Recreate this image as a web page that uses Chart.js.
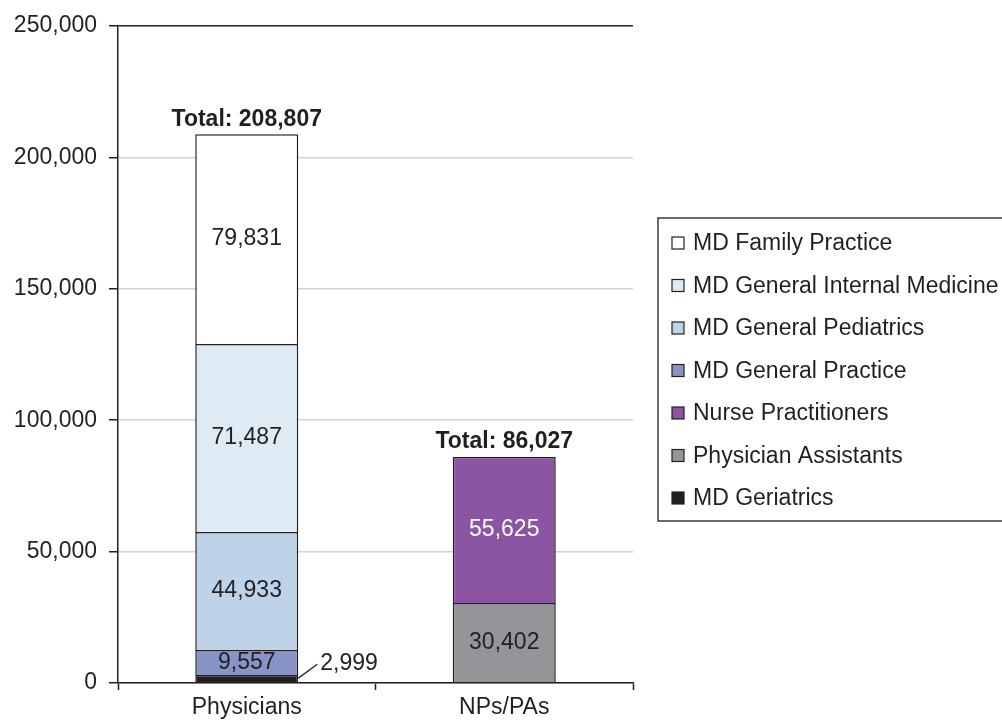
<!DOCTYPE html>
<html>
<head>
<meta charset="utf-8">
<script src="https://cdn.jsdelivr.net/npm/chart.js@4.4.1/dist/chart.umd.min.js"></script>
<style>
  html, body { margin: 0; padding: 0; background: #ffffff; }
  #wrap { width: 1002px; height: 721px; position: relative; }
</style>
</head>
<body>
<div id="wrap"><canvas id="c" width="1002" height="721"></canvas></div>
<script>
// ---- Data ----
const categories = ['Physicians', 'NPs/PAs'];
const seriesNames = ['MD Geriatrics', 'Physician Assistants', 'Nurse Practitioners', 'MD General Practice', 'MD General Pediatrics', 'MD General Internal Medicine', 'MD Family Practice'];
const geriatrics = [2999, null];
const physicianAssistants = [null, 30402];
const nursePractitioners = [null, 55625];
const generalPractice = [9557, null];
const generalPediatrics = [44933, null];
const internalMedicine = [71487, null];
const familyPractice = [79831, null];
const yTicks = [0, 50000, 100000, 150000, 200000, 250000];

const seriesValues = [geriatrics, physicianAssistants, nursePractitioners, generalPractice, generalPediatrics, internalMedicine, familyPractice];
const seriesColors = ['#231f20', '#939598', '#8c55a4', '#8894c6', '#bed3e8', '#dfebf4', '#ffffff'];
const labelColors = ['#231f20', '#231f20', '#ffffff', '#231f20', '#231f20', '#231f20', '#231f20'];

const FONT = '"Liberation Sans", Arial, Helvetica, sans-serif';
const INK = '#231f20';
const fmt = v => v.toLocaleString('en-US');

const datasets = seriesNames.map((name, i) => ({
  label: name,
  data: seriesValues[i],
  backgroundColor: seriesColors[i],
  borderColor: INK,
  borderWidth: { top: 1.5, left: 1.5, right: 1.5, bottom: 0 },
  borderSkipped: false,
  barPercentage: 0.8,
  categoryPercentage: 0.5
}));

const labelsPlugin = {
  id: 'labelsPlugin',
  afterDatasetsDraw(chart) {
    const ctx = chart.ctx;
    ctx.save();
    ctx.font = '23px ' + FONT;
    ctx.textBaseline = 'middle';
    chart.data.datasets.forEach((ds, i) => {
      const meta = chart.getDatasetMeta(i);
      meta.data.forEach((el, j) => {
        const v = ds.data[j];
        if (v === null || v === undefined) return;
        const p = el.getProps(['x', 'y', 'base', 'width'], true);
        const cy = (p.y + p.base) / 2;
        if (i === 0) {
          const x0 = p.x + p.width / 2;
          const y0 = p.base - 4;
          ctx.strokeStyle = INK;
          ctx.lineWidth = 1.5;
          ctx.beginPath();
          ctx.moveTo(x0, y0);
          ctx.lineTo(x0 + 19, y0 - 14);
          ctx.stroke();
          ctx.fillStyle = INK;
          ctx.textAlign = 'left';
          ctx.fillText(fmt(v), x0 + 22, y0 - 15);
        } else {
          ctx.fillStyle = labelColors[i];
          ctx.textAlign = 'center';
          ctx.fillText(fmt(v), p.x, cy);
        }
      });
    });
    ctx.font = 'bold 23px ' + FONT;
    ctx.fillStyle = INK;
    ctx.textAlign = 'center';
    categories.forEach((c, j) => {
      let total = 0;
      seriesValues.forEach(arr => { if (arr[j] !== null) total += arr[j]; });
      const x = chart.scales.x.getPixelForValue(j);
      const y = chart.scales.y.getPixelForValue(total);
      ctx.fillText('Total: ' + fmt(total), x, y - 15);
    });
    ctx.restore();
  }
};

const legendPlugin = {
  id: 'boxLegend',
  afterDraw(chart) {
    const ctx = chart.ctx;
    ctx.save();
    ctx.strokeStyle = '#3a3a3a';
    ctx.lineWidth = 1.5;
    ctx.strokeRect(658, 218, 360, 303);
    ctx.font = '23px ' + FONT;
    ctx.textBaseline = 'middle';
    ctx.textAlign = 'left';
    const n = chart.data.datasets.length;
    for (let k = 0; k < n; k++) {
      const i = n - 1 - k;
      const ds = chart.data.datasets[i];
      const cy = 243 + k * 42.5;
      ctx.fillStyle = ds.backgroundColor;
      ctx.fillRect(672, cy - 6, 12, 12);
      ctx.strokeStyle = INK;
      ctx.lineWidth = 1.2;
      ctx.strokeRect(672, cy - 6, 12, 12);
      ctx.fillStyle = INK;
      ctx.fillText(ds.label, 693, cy + 1);
    }
    ctx.restore();
  }
};

new Chart(document.getElementById('c'), {
  type: 'bar',
  data: { labels: categories, datasets },
  options: {
    responsive: false,
    animation: false,
    events: [],
    layout: { padding: { left: 0, right: 369, top: 26, bottom: 0 } },
    plugins: { legend: { display: false }, tooltip: { enabled: false } },
    scales: {
      x: {
        stacked: true,
        offset: true,
        grid: { offset: true, drawOnChartArea: false, tickLength: 7, tickColor: INK, tickWidth: 1.5 },
        border: { color: INK, width: 1.5 },
        ticks: { color: INK, font: { family: FONT, size: 23 }, padding: 4 },
        afterFit(s) { s.height = 38; }
      },
      y: {
        stacked: true,
        min: 0,
        max: 250000,
        afterBuildTicks(s) { s.ticks = yTicks.map(v => ({ value: v })); },
        grid: {
          color: ctx => (ctx.tick && ctx.tick.value === 250000) ? INK : '#d1d3d4',
          lineWidth: 1.5,
          tickLength: 9,
          tickColor: INK,
          tickWidth: 1.5
        },
        border: { color: INK, width: 1.5 },
        ticks: { color: INK, font: { family: FONT, size: 23 }, padding: 12, callback: v => fmt(v) },
        afterFit(s) { s.width = 118; }
      }
    }
  },
  plugins: [labelsPlugin, legendPlugin]
});
</script>
</body>
</html>
